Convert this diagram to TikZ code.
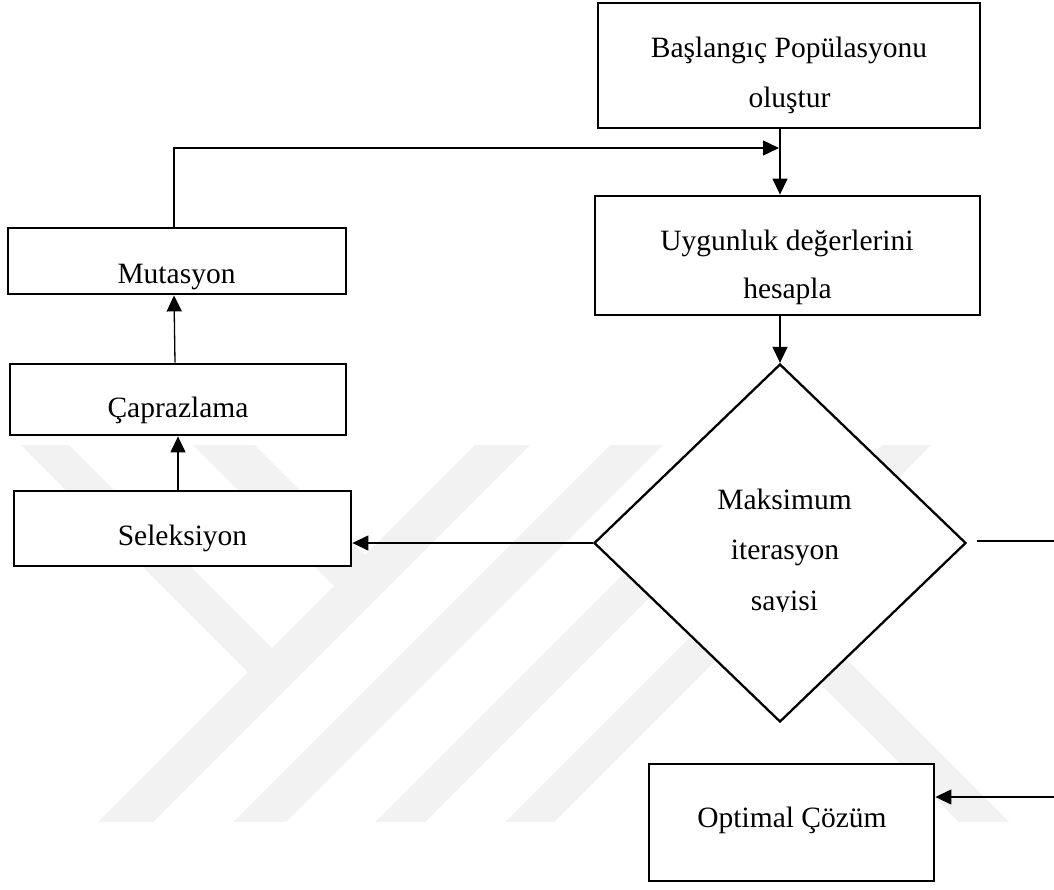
\documentclass[tikz,border=0pt]{standalone}
\usepackage{fontspec}
\setmainfont{Liberation Serif}
\usetikzlibrary{shapes.geometric,arrows.meta}
\begin{document}
\begin{tikzpicture}[x=1pt,y=-1pt,
  box/.style={draw, rectangle, line width=2.8pt, fill=white, inner sep=0pt},
  dec/.style={draw, diamond, line width=2.3pt, fill=white, inner sep=0pt},
  txt/.style={font=\fontsize{29.5}{35}\selectfont, inner sep=0pt, anchor=base},
  link/.style={line width=1.3pt},
  arr/.style={link, -{Triangle[length=16pt,width=15pt]}},
  wmark/.style={fill=black!5, draw=none}]
\useasboundingbox (0,0) rectangle (1054,889);

% faint background emblem
\fill[wmark] (21,445) -- (69,445) -- (274,650) -- (250,674) -- cycle;
\fill[wmark] (193,445) -- (255,445) -- (367,557) -- (336,588) -- cycle;
\fill[wmark] (475,445) -- (530,445) -- (153,822) -- (98,822) -- cycle;
\fill[wmark] (610,445) -- (663,445) -- (286,822) -- (233,822) -- cycle;
\fill[wmark] (752,445) -- (802,445) -- (425,822) -- (375,822) -- cycle;
\fill[wmark] (882,445) -- (931,445) -- (554,822) -- (505,822) -- cycle;
\fill[wmark] (756,620) -- (781,594) -- (1009,822) -- (959,822) -- cycle;

% process boxes
\node[box, minimum width=382pt, minimum height=125pt] (bas) at (789,65.5) {};
\node[box, minimum width=385pt, minimum height=119pt] (uyg) at (787.5,255.5) {};
\node[box, minimum width=338pt, minimum height=66pt] (mut) at (177,261) {};
\node[box, minimum width=336pt, minimum height=71pt] (cap) at (178,399.5) {};
\node[box, minimum width=337pt, minimum height=75pt] (sel) at (182.5,528.5) {};
\node[box, minimum width=285pt, minimum height=117pt] (opt) at (791.5,822.5) {};
\node[dec, minimum width=372pt, minimum height=358pt] (dia) at (780,543) {};

% labels
\node[txt] (t1) at (789,57) {Başlangıç Popülasyonu};
\node[txt] (t2) at (789.5,107) {oluştur};
\node[txt] (t3) at (787,250) {Uygunluk değerlerini};
\node[txt] (t4) at (787.5,298) {hesapla};
\node[txt] (t5) at (176.5,283) {Mutasyon};
\node[txt] (t6) at (178,417) {Çaprazlama};
\node[txt] (t7) at (182.5,545) {Seleksiyon};
\node[txt] (t8) at (784.5,509) {Maksimum};
\node[txt] (t9) at (785,559) {iterasyon};
\begin{scope}
  \clip (690,580) rectangle (880,611);
  \node[txt] (t10) at (784.5,610) {sayisi};
\end{scope}
\node[txt] (t11) at (792,827) {Optimal Çözüm};

% connectors
\coordinate (join) at (779,148);
\draw[arr] (bas.south -| dia.north) -- (uyg.north -| dia.north);
\draw[arr] (uyg.south -| dia.north) -- (dia.north);
\draw[arr] ([xshift=-3pt]mut.north) |- (join);
\draw[arr] (dia.west) -- (dia.west -| sel.east);
\draw[arr] (sel.north -| cap.south) -- (cap.south);
\draw[arr] ([xshift=-3pt]cap.north) -- ([xshift=-3pt]mut.south);
\draw[arr] ([xshift=10pt,yshift=2pt]dia.east) -- (1062,541) |- ([yshift=25.5pt]opt.east);
\end{tikzpicture}
\end{document}
